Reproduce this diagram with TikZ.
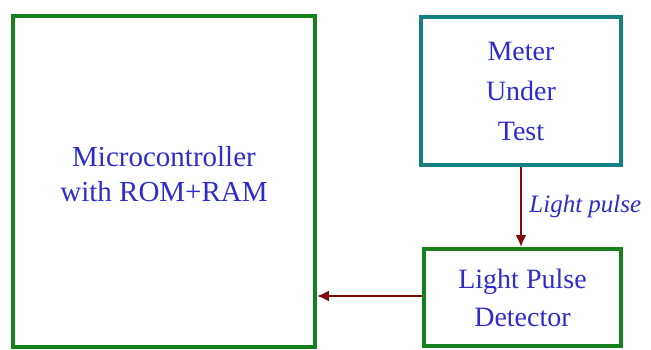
\documentclass[tikz,border=0pt]{standalone}
\usepackage{fontspec}
\setmainfont{Liberation Serif}
\usetikzlibrary{arrows.meta}
\definecolor{boxgreen}{RGB}{22,128,28}
\definecolor{boxteal}{RGB}{20,128,128}
\definecolor{textblue}{RGB}{45,45,205}
\definecolor{arrowred}{RGB}{128,10,10}
\tikzset{
  block/.style={draw=boxgreen, line width=3.8pt, align=center, text=textblue,
    inner sep=0pt, font=\fontsize{29}{35}\selectfont},
  signal/.style={draw=arrowred, line width=2.2pt, -{Latex[length=12pt,width=11pt]}}
}
\begin{document}
\begin{tikzpicture}[x=1pt, y=1pt]
  \useasboundingbox[fill=white] (0,0) rectangle (651,349);

  % Blocks
  \node[block, minimum width=302pt, minimum height=331pt] (mcu) at (164,167.5) {};
  \node[align=center, text=textblue, font=\fontsize{29}{35}\selectfont] (mcutext)
    at (164,175) {Microcontroller\\with ROM+RAM};
  \node[block, draw=boxteal, line width=3.2pt, minimum width=200pt, minimum height=148pt,
    font=\fontsize{28}{40}\selectfont] (meter) at (521,258) {Meter\\Under\\Test};
  \node[block, minimum width=197pt, minimum height=97pt,
    font=\fontsize{28}{38}\selectfont] (det) at (522.5,51.5) {Light Pulse\\Detector};

  % Signals
  \draw[signal] (meter.south) -- (meter.south |- det.north)
    node[midway, right=4pt, text=textblue, font=\fontsize{25}{26}\selectfont\itshape] (pulse) {Light pulse};
  \draw[signal] (det.west |- 0,53) -- (mcu.east |- 0,53);
\end{tikzpicture}
\end{document}
